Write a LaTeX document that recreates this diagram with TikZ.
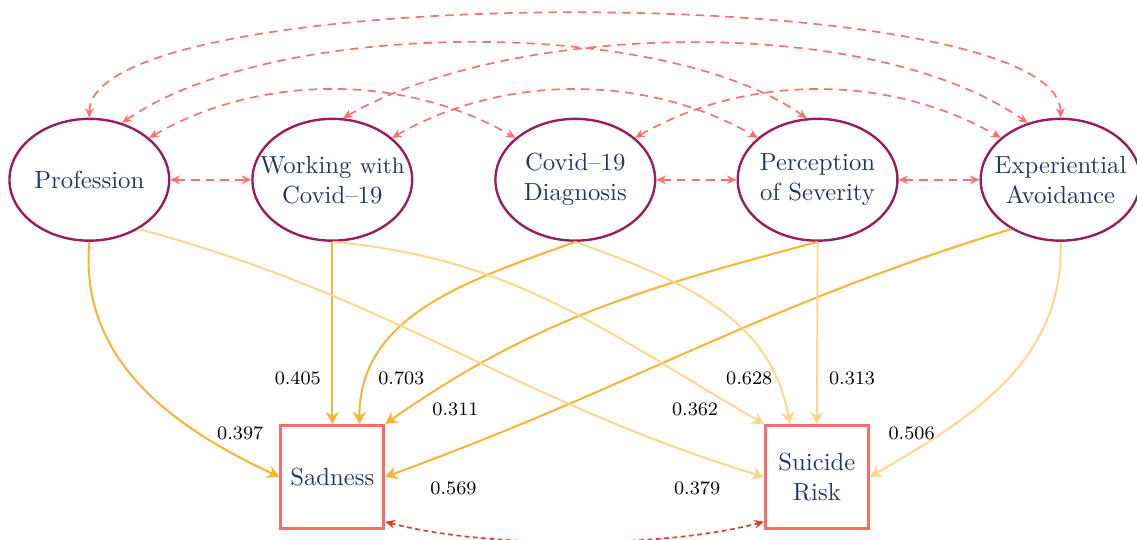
\documentclass[tikz,border=0pt]{standalone}
\usetikzlibrary{arrows.meta,shapes.geometric}
\definecolor{latborder}{RGB}{155,28,92}
\definecolor{labtext}{RGB}{36,54,98}
\definecolor{obsborder}{RGB}{249,108,108}
\definecolor{covline}{RGB}{249,112,112}
\definecolor{sadline}{RGB}{249,180,54}
\definecolor{riskline}{RGB}{255,214,140}
\definecolor{resline}{RGB}{226,58,42}
\tikzset{
  latent/.style={draw=latborder, line width=1pt, ellipse, inner xsep=-0.5cm, inner ysep=0pt, minimum width=2.36cm, minimum height=1.80cm, align=center, text=labtext, font=\fontsize{10.4pt}{12.6pt}\selectfont},
  observed/.style={draw=obsborder, line width=1.3pt, rectangle, minimum size=1.52cm, align=center, text=labtext, font=\fontsize{10.4pt}{12.6pt}\selectfont},
  cov/.style={{Stealth[length=4pt,width=3.6pt]}-{Stealth[length=4pt,width=3.6pt]}, draw=covline, line width=0.7pt, dash pattern=on 3.6pt off 2.6pt},
  resid/.style={{Stealth[length=4pt,width=3.6pt]}-{Stealth[length=4pt,width=3.6pt]}, draw=resline, line width=0.7pt, dash pattern=on 2pt off 1.5pt},
  tosad/.style={-{Stealth[length=5pt,width=5.5pt]}, draw=sadline, line width=0.85pt},
  torisk/.style={-{Stealth[length=5pt,width=5.5pt]}, draw=riskline, line width=0.8pt},
  wlab/.style={font=\footnotesize, text=black},
}
\begin{document}
\begin{tikzpicture}
    \useasboundingbox (0,0) rectangle (16.8,7.966);
    % exogenous variables
    \node[latent] (prof) at (1.32,5.31) {Profession};
    \node[latent] (work) at (4.91,5.31) {Working {\fontsize{9.4pt}{12.6pt}\selectfont with}\\Covid--19};
    \node[latent] (diag) at (8.50,5.31) {Covid--19\\Diagnosis};
    \node[latent] (perc) at (12.08,5.31) {Perception\\of Severity};
    \node[latent] (expa) at (15.67,5.31) {Experiential\\Avoidance};
    % outcomes
    \node[observed] (sad) at (4.91,0.92) {Sadness};
    \node[observed] (risk) at (12.07,0.92) {Suicide\\Risk};
    % covariances
    \draw[cov] (prof.east) -- (work.west);
    \draw[cov] (diag.east) -- (perc.west);
    \draw[cov] (perc.east) -- (expa.west);
    \draw[cov] (prof.35) to[out=30, in=150, looseness=0.9] (diag.145);
    \draw[cov] (work.35) to[out=30, in=150, looseness=0.9] (perc.145);
    \draw[cov] (diag.35) to[out=30, in=150, looseness=0.9] (expa.145);
    \draw[cov] (prof.60) to[out=35, in=145, looseness=0.675] (perc.100);
    \draw[cov] (work.80) to[out=30, in=145, looseness=0.72] (expa.120);
    \draw[cov] (prof.north) to[out=90, in=90, looseness=0.366] (expa.north);
    % paths to sadness
    \draw[tosad] (prof.south) to[out=-95, in=155] (sad.west);
    \draw[tosad] (work.south) -- (sad.north);
    \draw[tosad] (diag.south) to[out=-160, in=90] ([xshift=0.4cm]sad.north);
    \draw[tosad] (perc.south) to[out=-165, in=35] (sad.north east);
    \draw[tosad] (expa.-135) to[out=-163, in=20] (sad.east);
    % paths to suicide risk
    \draw[torisk] (prof.-45) to[out=-15, in=163] (risk.west);
    \draw[torisk] (work.south) to[out=-5, in=150] (risk.north west);
    \draw[torisk] (diag.south) to[out=-20, in=100] ([xshift=-0.4cm]risk.north);
    \draw[torisk] (perc.south) -- (risk.north);
    \draw[torisk] (expa.south) to[out=-88, in=30] (risk.east);
    % residual covariance
    \draw[resid] ([yshift=0.12cm]sad.south east) to[out=-15, in=-165, looseness=0.7] ([yshift=0.12cm]risk.south west);
    % weights
    \node[wlab] (wprofsad) at (3.55,1.57) {0.397};
    \node[wlab] (wworksad) at (4.40,2.38) {0.405};
    \node[wlab] (wdiagsad) at (5.93,2.38) {0.703};
    \node[wlab] (wpercsad) at (6.73,1.91) {0.311};
    \node[wlab] (wexpasad) at (6.70,0.75) {0.569};
    \node[wlab] (wworkrisk) at (10.27,1.91) {0.362};
    \node[wlab] (wprofrisk) at (10.30,0.75) {0.379};
    \node[wlab] (wdiagrisk) at (11.07,2.38) {0.628};
    \node[wlab] (wpercrisk) at (12.59,2.38) {0.313};
    \node[wlab] (wexparisk) at (13.47,1.57) {0.506};
\end{tikzpicture}
\end{document}
